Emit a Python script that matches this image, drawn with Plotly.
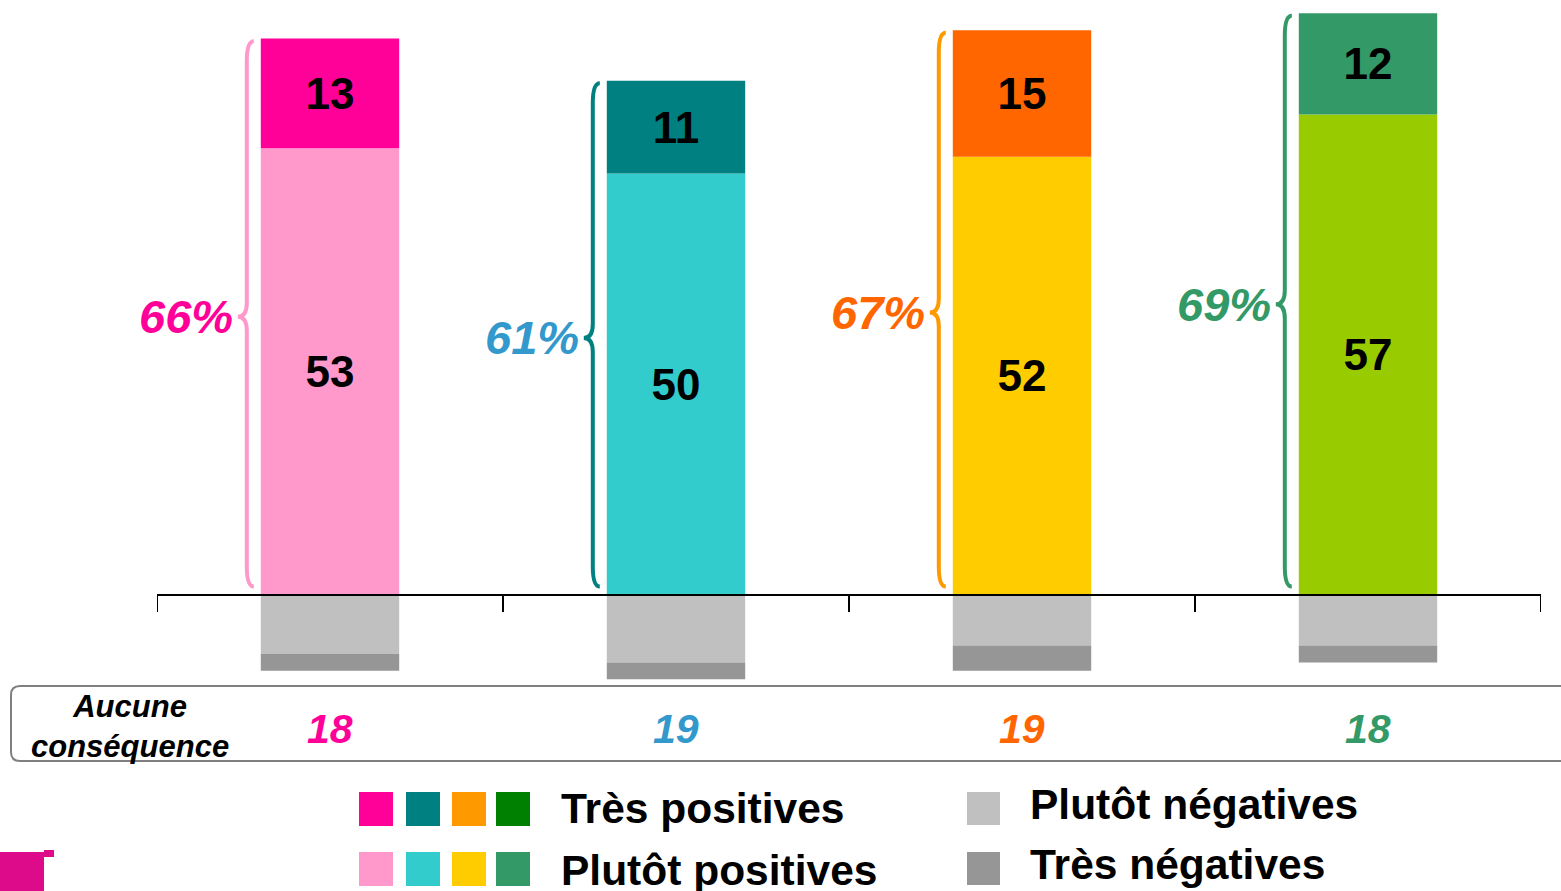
import plotly.graph_objects as go

W, H = 1561, 891

groups = ["G1", "G2", "G3", "G4"]
plutot_pos = [53, 50, 52, 57]
tres_pos = [13, 11, 15, 12]
plutot_neg = [7, 8, 6, 6]
tres_neg = [2, 2, 3, 2]
total_pos = [66, 61, 67, 69]
aucune = [18, 19, 19, 18]

col_tres_pos = ["#FF0099", "#008080", "#FF6600", "#339966"]
col_plutot_pos = ["#FF99CC", "#33CCCC", "#FFCC00", "#99CC00"]
col_brace = ["#FF99CC", "#008080", "#FF9900", "#339966"]
col_pct = ["#FF0099", "#3399CC", "#FF6600", "#339966"]
legend_tres = ["#FF0099", "#008080", "#FF9900", "#008000"]
legend_plutot = ["#FF99CC", "#33CCCC", "#FFCC00", "#339966"]
GREY_L = "#C0C0C0"
GREY_D = "#969696"
FONT = "Arial, Liberation Sans, sans-serif"

xs = list(range(len(groups)))

# pixel mapping helpers
X0, X1 = 157, 1541
ZERO_PX = 595
PX_PER_UNIT = 8.43
y_top = ZERO_PX / PX_PER_UNIT
y_bot = -(H - ZERO_PX) / PX_PER_UNIT
PX_PER_X = (X1 - X0) / 4.0


def px(x):
    return x / W


def py(y):
    return 1 - y / H


fig = go.Figure()
fig.add_bar(x=xs, y=plutot_pos, marker_color=col_plutot_pos, width=0.4,
            text=plutot_pos, texttemplate="<b>%{text}</b>", textposition="inside",
            insidetextanchor="middle", textfont=dict(size=44, color="black", family=FONT),
            constraintext="none", marker_line_width=0, name="Plutôt positives")
fig.add_bar(x=xs, y=tres_pos, marker_color=col_tres_pos, width=0.4,
            text=tres_pos, texttemplate="<b>%{text}</b>", textposition="inside",
            insidetextanchor="middle", textfont=dict(size=44, color="black", family=FONT),
            constraintext="none", marker_line_width=0, name="Très positives")
fig.add_bar(x=xs, y=[-v for v in plutot_neg], marker_color=GREY_L, width=0.4,
            marker_line_width=0, name="Plutôt négatives", textposition="none")
fig.add_bar(x=xs, y=[-v for v in tres_neg], marker_color=GREY_D, width=0.4,
            marker_line_width=0, name="Très négatives", textposition="none")

shapes = []
annotations = []

# axis line and boundary ticks
shapes.append(dict(type="line", xref="x", yref="y", x0=-0.5, x1=3.5, y0=0, y1=0,
                   line=dict(color="black", width=2), layer="above"))
for b in [-0.5, 0.5, 1.5, 2.5, 3.5]:
    shapes.append(dict(type="line", xref="x", yref="y", x0=b, x1=b, y0=0, y1=-17 / PX_PER_UNIT,
                       line=dict(color="black", width=2)))

# braces + percentages
for i, c in enumerate(xs):
    left = c - 0.2
    end_x = left - 7 / PX_PER_X
    stem_x = left - 14 / PX_PER_X
    tip_x = left - 23 / PX_PER_X
    top = total_pos[i] - 0.3
    bot = 1.0
    mid = total_pos[i] / 2
    d = 20 / PX_PER_UNIT
    dm = 14 / PX_PER_UNIT
    path = (f"M {end_x},{top} Q {stem_x},{top} {stem_x},{top - d} "
            f"L {stem_x},{mid + dm} Q {stem_x},{mid} {tip_x},{mid} "
            f"Q {stem_x},{mid} {stem_x},{mid - dm} "
            f"L {stem_x},{bot + d} Q {stem_x},{bot} {end_x},{bot}")
    shapes.append(dict(type="path", xref="x", yref="y", path=path,
                       line=dict(color=col_brace[i], width=4)))
    annotations.append(dict(x=tip_x - 3 / PX_PER_X, y=mid, xref="x", yref="y",
                            text=f"<b><i>{total_pos[i]}%</i></b>", showarrow=False,
                            xanchor="right", yanchor="middle",
                            font=dict(size=47, color=col_pct[i], family=FONT)))

# "Aucune conséquence" box
bx0, bx1, by0, by1, r = 11, 1575, 686, 761, 9
box_path = (f"M {px(bx0 + r)},{py(by0)} L {px(bx1)},{py(by0)} L {px(bx1)},{py(by1)} "
            f"L {px(bx0 + r)},{py(by1)} Q {px(bx0)},{py(by1)} {px(bx0)},{py(by1 - r)} "
            f"L {px(bx0)},{py(by0 + r)} Q {px(bx0)},{py(by0)} {px(bx0 + r)},{py(by0)} Z")
shapes.append(dict(type="path", xref="paper", yref="paper", path=box_path,
                   line=dict(color="#7F7F7F", width=2)))
annotations.append(dict(x=px(130), y=py(726), xref="paper", yref="paper",
                        text="<b><i>Aucune<br>conséquence</i></b>", showarrow=False,
                        xanchor="center", yanchor="middle", align="center",
                        font=dict(size=31, color="black", family=FONT)))
for i, c in enumerate(xs):
    annotations.append(dict(x=c, y=py(729), xref="x", yref="paper",
                            text=f"<b><i>{aucune[i]}</i></b>", showarrow=False,
                            xanchor="center", yanchor="middle",
                            font=dict(size=41, color=col_pct[i], family=FONT)))

# custom legend
sq_x = [359, 406, 452, 496]
for j in range(4):
    shapes.append(dict(type="rect", xref="paper", yref="paper",
                       x0=px(sq_x[j]), x1=px(sq_x[j] + 34), y0=py(792), y1=py(826),
                       fillcolor=legend_tres[j], line_width=0))
    shapes.append(dict(type="rect", xref="paper", yref="paper",
                       x0=px(sq_x[j]), x1=px(sq_x[j] + 34), y0=py(852), y1=py(886),
                       fillcolor=legend_plutot[j], line_width=0))
shapes.append(dict(type="rect", xref="paper", yref="paper", x0=px(967), x1=px(1000),
                   y0=py(792), y1=py(825), fillcolor=GREY_L, line_width=0))
shapes.append(dict(type="rect", xref="paper", yref="paper", x0=px(967), x1=px(1000),
                   y0=py(852), y1=py(885), fillcolor=GREY_D, line_width=0))
for txt, x, y in [("Très positives", 559, 808), ("Plutôt positives", 559, 870),
                  ("Plutôt négatives", 1028, 804), ("Très négatives", 1028, 864)]:
    annotations.append(dict(x=px(x), y=py(y), xref="paper", yref="paper",
                            text=f"<b>{txt}</b>", showarrow=False,
                            xanchor="left", yanchor="middle",
                            font=dict(size=42.5, color="black", family=FONT)))

# logo fragment bottom-left
shapes.append(dict(type="rect", xref="paper", yref="paper", x0=0, x1=px(44),
                   y0=0, y1=py(852), fillcolor="#DD0A8A", line_width=0))
shapes.append(dict(type="rect", xref="paper", yref="paper", x0=px(44), x1=px(54),
                   y0=py(857), y1=py(850), fillcolor="#DD0A8A", line_width=0))

fig.update_layout(
    width=W, height=H,
    margin=dict(l=0, r=0, t=0, b=0),
    paper_bgcolor="white", plot_bgcolor="white",
    barmode="relative", bargap=0.6, showlegend=False,
    xaxis=dict(domain=[X0 / W, X1 / W], range=[-0.5, 3.5], visible=False, fixedrange=True),
    yaxis=dict(domain=[0, 1], range=[y_bot, y_top], visible=False, fixedrange=True),
    shapes=shapes, annotations=annotations,
    font=dict(family=FONT),
)

fig.write_html("out.html", config={"displayModeBar": False},
               post_script="document.body.style.margin='0';document.body.style.overflow='hidden';")
